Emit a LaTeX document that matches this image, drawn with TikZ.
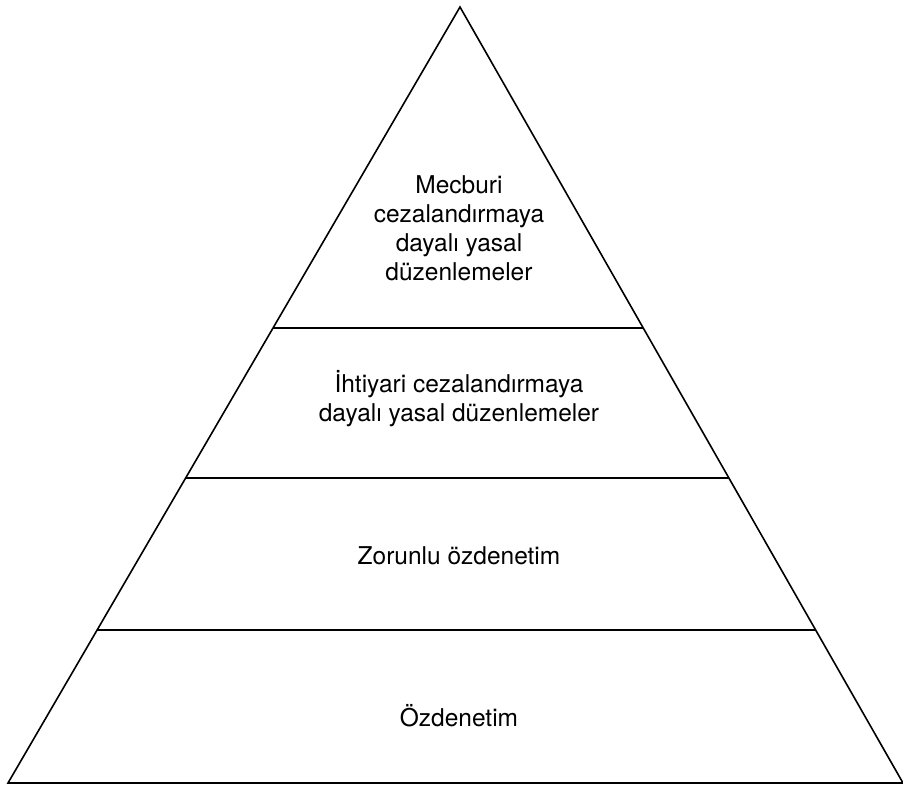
\documentclass[tikz,border=0pt]{standalone}
\usepackage{fontspec}
\setmainfont{TeX Gyre Heros}
\usetikzlibrary{calc}
\begin{document}
\begin{tikzpicture}[x=1pt,y=-1pt,
  edge/.style={line width=1.6pt,line join=miter},
  tier/.style={align=center,font=\fontsize{24.5}{29}\selectfont,inner sep=0pt}]
  \useasboundingbox (0,0) rectangle (903,785);
  % outer triangle
  \coordinate (apex) at (460,7);
  \coordinate (bl) at (8,783);
  \coordinate (br) at (903,783);
  \draw[edge] (bl) -- (apex) -- (br) -- cycle;
  % tier boundaries
  \foreach \t/\n in {0.4137/a,0.6070/b,0.8028/c}{
    \coordinate (l\n) at ($(apex)!\t!(bl)$);
    \coordinate (r\n) at ($(apex)!\t!(br)$);
    \draw[edge] (l\n) -- (r\n);
  }
  % tier labels
  \node[tier] (t1) at (459,228) {Mecburi\\cezalandırmaya\\dayalı yasal\\düzenlemeler};
  \node[tier] (t2) at (459,399) {İhtiyari cezalandırmaya\\dayalı yasal düzenlemeler};
  \node[tier] (t3) at (459,556) {Zorunlu özdenetim};
  \node[tier] (t4) at (459,716) {Özdenetim};
\end{tikzpicture}
\end{document}
